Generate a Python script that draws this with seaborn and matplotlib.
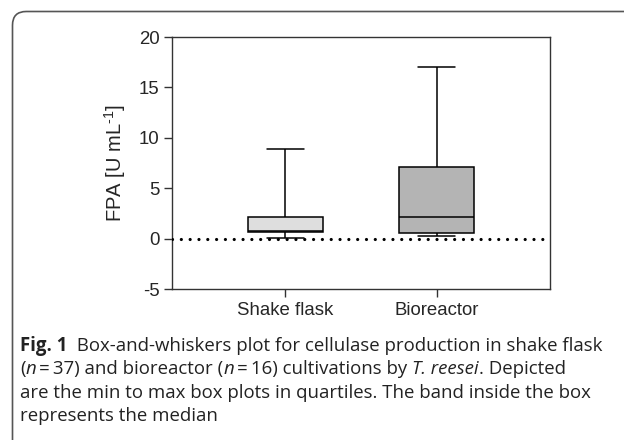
import numpy as np
import pandas as pd
import matplotlib
matplotlib.use("Agg")
import matplotlib.pyplot as plt
import seaborn as sns
from matplotlib.patches import FancyBboxPatch

# five-number summaries (min to max whiskers)
categories = ["Shake flask", "Bioreactor"]
minimum = [0.1, 0.3]
q1 = [0.64, 0.55]
median = [0.8, 2.15]
q3 = [2.1, 7.15]
maximum = [8.9, 17.0]
box_colors = ["#dedede", "#b4b4b4"]

yticks = [-5, 0, 5, 10, 15, 20]
ylabel = "FPA [U mL$^{\\text{-1}}$]"

caption = [
    [("Fig. 1", "bold"), ("  Box-and-whiskers plot for cellulase production in shake flask", "normal")],
    [("(", "normal"), ("n", "italic"), ("\u2009=\u200937) and bioreactor (", "normal"), ("n", "italic"),
     ("\u2009=\u200916) cultivations by ", "normal"), ("T. reesei", "italic"), (". Depicted", "normal")],
    [("are the min to max box plots in quartiles. The band inside the box", "normal")],
    [("represents the median", "normal")],
]

# with 5 points, linear percentiles give exactly the five-number summary
rows = []
for i, cat in enumerate(categories):
    for v in (minimum[i], q1[i], median[i], q3[i], maximum[i]):
        rows.append({"group": cat, "fpa": v})
df = pd.DataFrame(rows)

sns.set_style("ticks")
plt.rcParams["font.family"] = ["Liberation Sans", "DejaVu Sans"]
plt.rcParams["axes.unicode_minus"] = False
plt.rcParams["mathtext.fontset"] = "custom"
plt.rcParams["mathtext.rm"] = "Liberation Sans"

fig = plt.figure(figsize=(6.24, 4.4), dpi=100)
ax = fig.add_axes([172 / 624, 1 - 289 / 440, 378 / 624, 252 / 440])

sns.boxplot(data=df, x="group", y="fpa", order=categories, hue="group",
            palette=box_colors, legend=False, whis=(0, 100), width=0.495,
            linecolor="black", linewidth=1.1, fliersize=0, saturation=1,
            capwidths=0.245, ax=ax)

ax.axhline(0, xmin=0, xmax=0.985, color="black", linewidth=2.3,
           linestyle=(0, (0.01, 2.75)), dash_capstyle="round", zorder=5)

ax.set_xlim(-0.75, 1.75)
ax.set_ylim(-5, 20)
ax.set_yticks(yticks)
ax.set_xlabel("")
ax.set_ylabel(ylabel, fontsize=14.5, labelpad=8)
ax.tick_params(axis="both", direction="out", length=6, width=1, color="#333333",
               labelsize=13.4, pad=3)
for s in ax.spines.values():
    s.set_visible(True)
    s.set_linewidth(1)
    s.set_color("#333333")

# rounded frame around the figure
frame = FancyBboxPatch((12.5 / 624, -0.1), 1.2, 1.1 - 11.5 / 440,
                       boxstyle="round,pad=0,rounding_size=0.022",
                       transform=fig.transFigure, fill=False,
                       edgecolor="#555555", linewidth=1.2, mutation_aspect=624 / 440)
fig.patches.append(frame)

# caption with mixed styles, runs placed one after another
fig.canvas.draw()
renderer = fig.canvas.get_renderer()
line_y = [346, 369, 393, 416]
for line, ypx in zip(caption, line_y):
    xpx = 20
    for text, style in line:
        t = fig.text(xpx / 624, 1 - ypx / 440, text, fontsize=13.4, va="center",
                     ha="left", family=["Open Sans", "DejaVu Sans"],
                     weight="bold" if style == "bold" else "normal",
                     style="italic" if style == "italic" else "normal",
                     color="#222222")
        xpx += t.get_window_extent(renderer).width

fig.savefig("out.png", dpi=100)
